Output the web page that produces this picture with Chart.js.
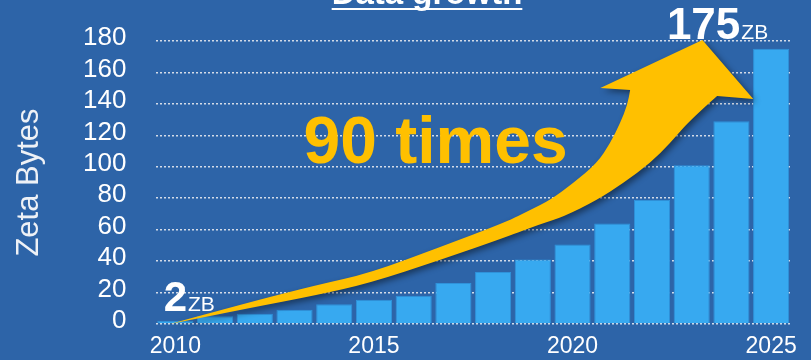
<!DOCTYPE html>
<html>
<head>
<meta charset="utf-8">
<title>Data growth</title>
<script src="https://cdn.jsdelivr.net/npm/chart.js@4.4.1/dist/chart.umd.min.js"></script>
<style>
  html, body { margin: 0; padding: 0; background: #2D64A8; }
  #wrap { width: 811px; height: 360px; }
</style>
</head>
<body>
<div id="wrap"><canvas id="chart" width="811" height="360"></canvas></div>
<script>
// ==== Data ====
const years = [2010, 2011, 2012, 2013, 2014, 2015, 2016, 2017, 2018, 2019, 2020, 2021, 2022, 2023, 2024, 2025];
const zettabytes = [2, 5, 6.5, 9, 12.5, 15.5, 18, 26, 33, 41, 50.5, 64, 79, 101, 129, 175];
const yearTicks = [2010, 2015, 2020, 2025];
const valueTicks = [0, 20, 40, 60, 80, 100, 120, 140, 160, 180];
const unit = 'ZB';
const growthText = '90 times';

// ==== Styles ====
const BG = '#2D64A8';
const BAR = '#37A9F0';
const ARROW = '#FFC000';
const WHITE = '#FFFFFF';
const FONT = '"Liberation Sans", Arial, sans-serif';

// arrow outline in (category index, value) units, tail -> head -> tail
const arrowUpper = [[-0.135, 0], [1.88, 14.0], [3.57, 24.8], [4.90, 32.4], [6.67, 49.0], [8.33, 64.9],
  [8.93, 72.5], [9.44, 78.9], [10.02, 89.7], [10.62, 102.4], [10.95, 115.1], [11.20, 127.9],
  [11.38, 139.3], [11.45, 148.9]];
const arrowHead = [[10.70, 150.1], [13.27, 180.7], [14.55, 143.1], [13.64, 145.0]];
const arrowLower = [[13.64, 145.0], [12.96, 129.8], [12.46, 115.1], [11.96, 102.4], [11.28, 89.7],
  [10.62, 78.9], [9.76, 68.1], [9.19, 63.6], [8.33, 55.3], [6.67, 40.7], [4.90, 26.1],
  [3.57, 18.4], [1.88, 10.2], [-0.135, 0]];

function toPx(chart, pt) {
  return [chart.scales.x.getPixelForValue(pt[0]), chart.scales.y.getPixelForValue(pt[1])];
}

// smooth run through a list of points, current point must already be pts[0]
function traceSmooth(ctx, pts) {
  for (let i = 1; i < pts.length - 1; i++) {
    const mx = (pts[i][0] + pts[i + 1][0]) / 2;
    const my = (pts[i][1] + pts[i + 1][1]) / 2;
    ctx.quadraticCurveTo(pts[i][0], pts[i][1], mx, my);
  }
  const last = pts[pts.length - 1];
  ctx.lineTo(last[0], last[1]);
}

// ==== Plugins ====
const background = {
  id: 'background',
  beforeDraw(chart) {
    const ctx = chart.ctx;
    ctx.save();
    ctx.fillStyle = BG;
    ctx.fillRect(0, 0, chart.width, chart.height);
    ctx.restore();
  }
};

const growthArrow = {
  id: 'growthArrow',
  afterDatasetsDraw(chart) {
    const ctx = chart.ctx;
    const up = arrowUpper.map(p => toPx(chart, p));
    const head = arrowHead.map(p => toPx(chart, p));
    const low = arrowLower.map(p => toPx(chart, p));

    ctx.save();
    ctx.shadowColor = 'rgba(0, 0, 0, 0.45)';
    ctx.shadowBlur = 6;
    ctx.shadowOffsetX = 3;
    ctx.shadowOffsetY = 3;
    ctx.fillStyle = ARROW;
    ctx.beginPath();
    ctx.moveTo(up[0][0], up[0][1]);
    traceSmooth(ctx, up);
    head.forEach(p => ctx.lineTo(p[0], p[1]));
    traceSmooth(ctx, low);
    ctx.closePath();
    ctx.fill();
    ctx.restore();
  }
};

const annotations = {
  id: 'annotations',
  afterDraw(chart) {
    const ctx = chart.ctx;
    const x = chart.scales.x, y = chart.scales.y;
    const first = zettabytes[0];
    const lastIdx = zettabytes.length - 1;
    const last = zettabytes[lastIdx];
    ctx.save();
    ctx.fillStyle = WHITE;
    ctx.textBaseline = 'alphabetic';

    // first value label, centred over its bar
    ctx.font = 'bold 42px ' + FONT;
    const firstText = String(first);
    const fw = ctx.measureText(firstText).width;
    const fx = x.getPixelForValue(0) - fw / 2;
    const fy = y.getPixelForValue(first) - 10;
    ctx.textAlign = 'left';
    ctx.fillText(firstText, fx, fy);
    ctx.font = '21px ' + FONT;
    ctx.fillText(unit, fx + fw + 1, fy);

    // last value label, ending at its bar centre
    const lx = x.getPixelForValue(lastIdx) - 3;
    const ly = y.getPixelForValue(last) - 10;
    ctx.textAlign = 'right';
    ctx.font = '21px ' + FONT;
    ctx.fillText(unit, lx, ly);
    const uw = ctx.measureText(unit).width;
    ctx.font = 'bold 44px ' + FONT;
    ctx.fillText(String(last), lx - uw - 1, ly);

    // growth factor text
    ctx.fillStyle = ARROW;
    ctx.textAlign = 'center';
    ctx.font = 'bold 66px ' + FONT;
    ctx.fillText(growthText, x.getPixelForValue(6.55), y.getPixelForValue(102.4));

    // heading, mostly above the top edge
    ctx.fillStyle = WHITE;
    ctx.font = 'bold 33px ' + FONT;
    ctx.fillText('Data growth', 427, 4);
    const tw = ctx.measureText('Data growth').width;
    ctx.fillRect(427 - tw / 2, 8, tw, 2);
    ctx.restore();
  }
};

// ==== Chart ====
const ctx = document.getElementById('chart').getContext('2d');
const chart = new Chart(ctx, {
  type: 'bar',
  data: {
    labels: years,
    datasets: [{
      data: zettabytes,
      backgroundColor: BAR,
      borderColor: '#2F92DA',
      borderWidth: 1,
      barPercentage: 0.91,
      categoryPercentage: 1
    }]
  },
  options: {
    responsive: false,
    animation: false,
    layout: { padding: { top: 41, right: 20, bottom: 0, left: 0 } },
    plugins: {
      legend: { display: false },
      tooltip: { enabled: false }
    },
    scales: {
      x: {
        grid: { display: false },
        border: { display: false },
        ticks: {
          autoSkip: false,
          maxRotation: 0,
          padding: 1,
          color: WHITE,
          font: { family: FONT, size: 23 },
          callback: function (value) {
            const yr = years[value];
            return yearTicks.includes(yr) ? String(yr) : '';
          }
        },
        afterFit(scale) { scale.height = 36; }
      },
      y: {
        min: valueTicks[0],
        max: valueTicks[valueTicks.length - 1],
        ticks: {
          stepSize: valueTicks[1] - valueTicks[0],
          autoSkip: false,
          padding: 29,
          labelOffset: -3,
          color: WHITE,
          font: { family: FONT, size: 26 }
        },
        grid: {
          color: '#D3DBE8',
          lineWidth: 1.5,
          drawTicks: false
        },
        border: { display: false, dash: [2, 2] },
        title: {
          display: true,
          text: 'Zeta Bytes',
          color: '#EEF1F6',
          font: { family: FONT, size: 31 },
          padding: { top: 11, bottom: 0 }
        },
        afterFit(scale) {
          // keep the tick padding from pushing the plot in vertically
          scale.width = 155.5;
          scale.paddingTop = 0;
          scale.paddingBottom = 0;
        }
      }
    }
  },
  plugins: [background, growthArrow, annotations]
});
</script>
</body>
</html>
